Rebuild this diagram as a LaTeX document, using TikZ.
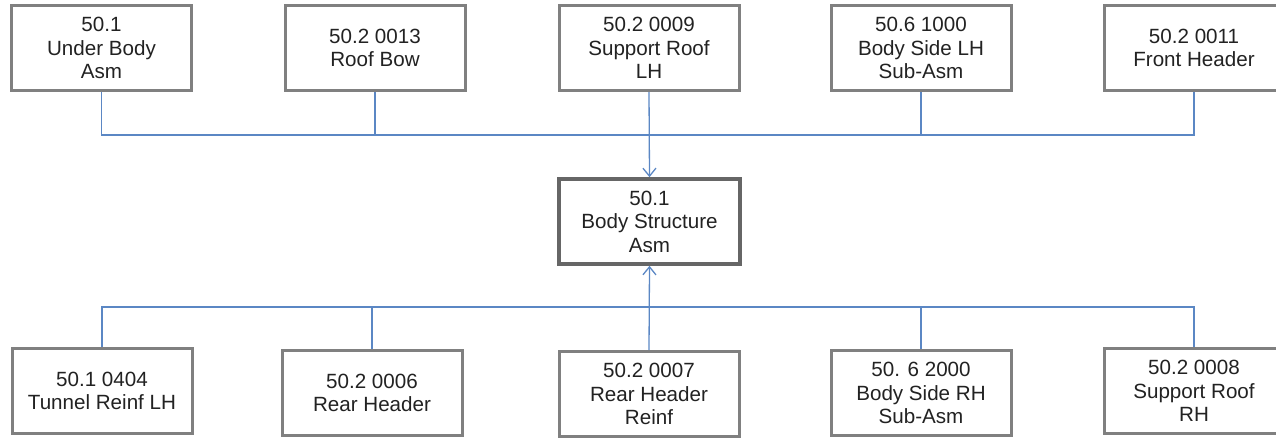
\documentclass[tikz,border=0pt]{standalone}
\usepackage{fontspec}
\setmainfont{Liberation Sans}
\usetikzlibrary{arrows.meta}
\definecolor{boxgray}{HTML}{808080}
\definecolor{linkblue}{HTML}{5B87C4}
\definecolor{ink}{HTML}{222222}
\begin{document}
\begin{tikzpicture}[x=1pt,y=-1pt,
  part/.style={draw=boxgray, line width=3pt, fill=white, text=ink,
    minimum width=180pt, minimum height=85pt, inner sep=0pt, align=center,
    font=\fontsize{20.6}{23.5}\selectfont},
  mainpart/.style={part, line width=3.6pt, draw=black!60, minimum width=181pt, minimum height=85pt},
  link/.style={draw=linkblue, line width=1.3pt},
  feed/.style={link, -{Straight Barb[length=8pt,width=13pt,line width=1.3pt]}}]
\useasboundingbox (0,0) rectangle (1276,440);

% upper row of sub-assemblies
\node[part] (t1) at (101.5,48) {50.1\\Under Body\\Asm};
\node[part] (t2) at (375,48) {50.2 0013\\Roof Bow};
\node[part] (t3) at (649,48) {50.2 0009\\Support Roof\\LH};
\node[part] (t4) at (921,48) {50.6 1000\\Body Side LH\\Sub-Asm};
\node[part] (t5) at (1194,48) {50.2 0011\\Front Header};

% main assembly
\node[mainpart] (main) at (649.5,221.5) {50.1\\Body Structure\\Asm};

% lower row of sub-assemblies
\node[part] (b1) at (102,391) {50.1 0404\\Tunnel Reinf LH};
\node[part] (b2) at (372,393) {50.2 0006\\Rear Header};
\node[part] (b3) at (649,394) {50.2 0007\\Rear Header\\Reinf};
\node[part] (b4) at (921,393) {50. 6 2000\\Body Side RH\\Sub-Asm};
\node[part] (b5) at (1194,391) {50.2 0008\\Support Roof\\RH};

% collecting lines
\coordinate (upbus) at (0,135);
\coordinate (lowbus) at (0,307);

\draw[link] (t1.south) -- (t1.south |- upbus) -- (t5.south |- upbus) -- (t5.south);
\foreach \n in {t2,t4} \draw[link] (\n.south) -- (\n.south |- upbus);
\draw[feed] (t3.south) -- (main.north);

\draw[link] (b1.north) -- (b1.north |- lowbus) -- (b5.north |- lowbus) -- (b5.north);
\foreach \n in {b2,b4} \draw[link] (\n.north) -- (\n.north |- lowbus);
\draw[feed] (b3.north) -- (main.south);
\end{tikzpicture}
\end{document}
